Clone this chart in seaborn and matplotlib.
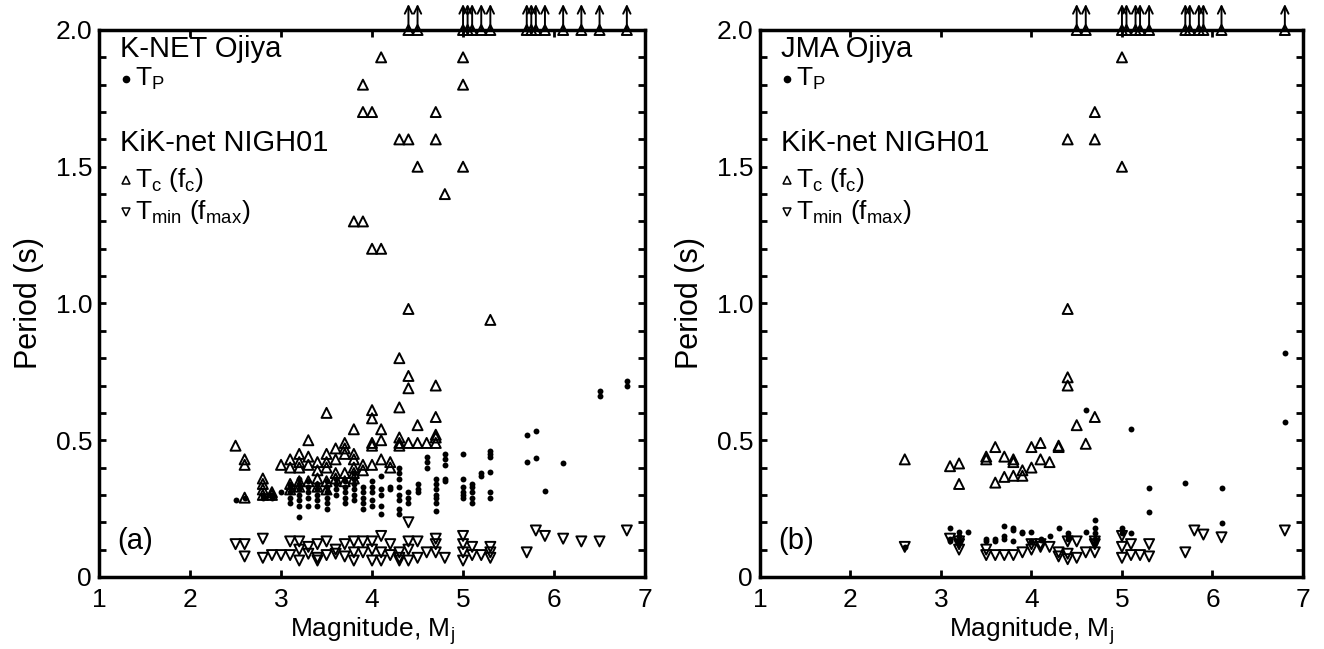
import numpy as np
import pandas as pd
import matplotlib
matplotlib.use("Agg")
import matplotlib.pyplot as plt
import seaborn as sns
from matplotlib.ticker import MultipleLocator, FixedLocator

sns.set_theme(style="ticks")
plt.rcParams['font.family'] = ['Liberation Sans', 'DejaVu Sans']
plt.rcParams['mathtext.fontset'] = 'custom'
plt.rcParams['mathtext.rm'] = 'Liberation Sans'
plt.rcParams['mathtext.it'] = 'Liberation Sans'
plt.rcParams['text.color'] = 'black'
plt.rcParams['axes.labelcolor'] = 'black'
plt.rcParams['xtick.color'] = 'black'
plt.rcParams['ytick.color'] = 'black'

# ---------------- Data: panel (a) K-NET Ojiya / KiK-net NIGH01 ----------------
a_tp_mag = [2.5, 2.6, 2.8, 2.8, 2.9, 2.9, 3.0,
            3.1, 3.1, 3.1, 3.1, 3.1,
            3.2, 3.2, 3.2, 3.2, 3.2, 3.2, 3.2,
            3.3, 3.3, 3.3, 3.3, 3.3,
            3.4, 3.4, 3.4, 3.4, 3.4,
            3.5, 3.5, 3.5, 3.5, 3.5, 3.5,
            3.6, 3.6, 3.6, 3.6,
            3.7, 3.7, 3.7, 3.7, 3.7,
            3.8, 3.8, 3.8, 3.8, 3.8, 3.8,
            3.9, 3.9, 3.9, 3.9, 3.9,
            4.0, 4.0, 4.0, 4.0, 4.0,
            4.1, 4.1, 4.1, 4.1, 4.1,
            4.2, 4.2,
            4.3, 4.3, 4.3, 4.3, 4.3, 4.3, 4.3, 4.3,
            4.4, 4.4, 4.4,
            4.5, 4.5, 4.5,
            4.6, 4.6, 4.6,
            4.7, 4.7, 4.7, 4.7, 4.7, 4.7, 4.7,
            4.8, 4.8, 4.8, 4.8, 4.8,
            5.0, 5.0, 5.0, 5.0, 5.0, 5.0,
            5.1, 5.1, 5.1, 5.1, 5.1,
            5.2, 5.2,
            5.3, 5.3, 5.3, 5.3, 5.3, 5.3,
            5.7, 5.7, 5.8, 5.8, 5.9, 6.1, 6.5, 6.5, 6.8, 6.8]
a_tp_per = [0.28, 0.29, 0.29, 0.30, 0.30, 0.29, 0.31,
            0.27, 0.29, 0.31, 0.33, 0.34,
            0.22, 0.26, 0.28, 0.30, 0.32, 0.34, 0.36,
            0.26, 0.29, 0.31, 0.33, 0.35,
            0.26, 0.28, 0.30, 0.32, 0.34,
            0.25, 0.27, 0.29, 0.31, 0.33, 0.35,
            0.30, 0.32, 0.34, 0.36,
            0.27, 0.29, 0.31, 0.33, 0.35,
            0.28, 0.30, 0.32, 0.34, 0.36, 0.38,
            0.25, 0.27, 0.29, 0.31, 0.33,
            0.26, 0.28, 0.31, 0.33, 0.35,
            0.23, 0.26, 0.30, 0.32, 0.37,
            0.32, 0.33,
            0.23, 0.25, 0.28, 0.30, 0.33, 0.36, 0.38, 0.40,
            0.27, 0.29, 0.31,
            0.31, 0.32, 0.34,
            0.40, 0.42, 0.44,
            0.24, 0.27, 0.29, 0.30, 0.32, 0.34, 0.36,
            0.35, 0.36, 0.41, 0.43, 0.45,
            0.29, 0.30, 0.31, 0.33, 0.36, 0.45,
            0.27, 0.29, 0.31, 0.33, 0.34,
            0.37, 0.38,
            0.29, 0.31, 0.385, 0.44, 0.45, 0.46,
            0.42, 0.52, 0.435, 0.535, 0.315, 0.417, 0.66, 0.68, 0.70, 0.715]

a_tc_mag = [2.5, 2.6, 2.6, 2.6,
            2.8, 2.8, 2.8, 2.8, 2.9, 2.9, 3.0,
            3.1, 3.1, 3.1, 3.1,
            3.2, 3.2, 3.2, 3.2, 3.2,
            3.3, 3.3, 3.3, 3.3,
            3.4, 3.4, 3.4, 3.4,
            3.5, 3.5, 3.5, 3.5, 3.5, 3.5,
            3.6, 3.6, 3.6, 3.6,
            3.7, 3.7, 3.7, 3.7, 3.7,
            3.8, 3.8, 3.8, 3.8, 3.8, 3.8, 3.8,
            3.9, 3.9, 3.9, 3.9, 3.9,
            4.0, 4.0, 4.0, 4.0, 4.0, 4.0, 4.0,
            4.1, 4.1, 4.1, 4.1, 4.1,
            4.2, 4.2,
            4.3, 4.3, 4.3, 4.3, 4.3, 4.3,
            4.4, 4.4, 4.4, 4.4, 4.4,
            4.5, 4.5, 4.5,
            4.6,
            4.7, 4.7, 4.7, 4.7, 4.7, 4.7, 4.7,
            4.8, 5.0, 5.0, 5.0, 5.3]
a_tc_per = [0.48, 0.43, 0.41, 0.29,
            0.36, 0.34, 0.32, 0.30, 0.31, 0.30, 0.41,
            0.43, 0.40, 0.34, 0.32,
            0.45, 0.42, 0.40, 0.35, 0.33,
            0.50, 0.44, 0.41, 0.35,
            0.42, 0.39, 0.36, 0.33,
            0.60, 0.45, 0.42, 0.40, 0.35, 0.32,
            0.47, 0.43, 0.38, 0.36,
            0.49, 0.47, 0.45, 0.38, 0.35,
            0.54, 0.45, 0.43, 0.40, 0.38, 0.36, 1.30,
            0.41, 0.39, 1.30, 1.70, 1.80,
            0.61, 0.58, 0.49, 0.48, 0.41, 1.20, 1.70,
            0.54, 0.50, 0.43, 1.20, 1.90,
            0.42, 0.40,
            0.80, 0.62, 0.51, 0.49, 0.48, 1.60,
            0.98, 0.735, 0.69, 0.49, 1.60,
            0.555, 0.49, 1.50,
            0.49,
            0.70, 0.585, 0.52, 0.51, 0.49, 1.60, 1.70,
            1.40, 1.50, 1.80, 1.90, 0.94]
# Tc beyond the axis (> 2 s), plotted at the top with arrows
a_tc_over_mag = [4.4, 4.5, 5.0, 5.05, 5.1, 5.2, 5.3, 5.7, 5.75, 5.8, 5.9, 6.1, 6.3, 6.5, 6.8]

a_tmin_mag = [2.5, 2.6, 2.6, 2.8, 2.8, 2.9, 3.0, 3.1, 3.1,
              3.2, 3.2, 3.2, 3.3, 3.3, 3.4, 3.4, 3.4, 3.5, 3.5,
              3.6, 3.6, 3.7, 3.7, 3.8, 3.8, 3.8, 3.9, 3.9,
              4.0, 4.0, 4.0, 4.1, 4.1, 4.1, 4.2, 4.2, 4.3, 4.3, 4.3,
              4.4, 4.4, 4.4, 4.4, 4.5, 4.5, 4.6, 4.7, 4.7, 4.7, 4.8,
              5.0, 5.0, 5.0, 5.0, 5.1, 5.1, 5.2, 5.3, 5.3, 5.3,
              5.7, 5.8, 5.9, 6.1, 6.3, 6.5, 6.8]
a_tmin_per = [0.12, 0.12, 0.075, 0.14, 0.07, 0.08, 0.08, 0.13, 0.08,
              0.13, 0.10, 0.06, 0.085, 0.11, 0.07, 0.06, 0.12, 0.13, 0.08,
              0.085, 0.10, 0.12, 0.075, 0.13, 0.06, 0.09, 0.13, 0.09,
              0.13, 0.10, 0.06, 0.15, 0.09, 0.06, 0.12, 0.08, 0.07, 0.06, 0.09,
              0.20, 0.13, 0.06, 0.10, 0.13, 0.07, 0.09, 0.14, 0.12, 0.09, 0.07,
              0.15, 0.12, 0.09, 0.06, 0.11, 0.08, 0.08, 0.11, 0.09, 0.07,
              0.09, 0.17, 0.15, 0.14, 0.13, 0.13, 0.17]

# ---------------- Data: panel (b) JMA Ojiya / KiK-net NIGH01 ----------------
b_tp_mag = [2.6, 3.1, 3.1, 3.1, 3.2, 3.2, 3.2, 3.3, 3.5, 3.5, 3.6, 3.6,
            3.7, 3.7, 3.7, 3.8, 3.8, 3.8, 3.9, 3.9, 4.0, 4.0, 4.1, 4.1,
            4.2, 4.3, 4.4, 4.4, 4.4, 4.6, 4.6, 4.7, 4.7, 4.7, 4.7, 4.7,
            5.0, 5.0, 5.1, 5.1, 5.3, 5.3, 5.7, 6.1, 6.1, 6.8, 6.8]
b_tp_per = [0.11, 0.18, 0.14, 0.13, 0.165, 0.15, 0.13, 0.165, 0.14, 0.13, 0.13, 0.14,
            0.187, 0.15, 0.14, 0.18, 0.17, 0.13, 0.165, 0.16, 0.165, 0.13, 0.135, 0.14,
            0.15, 0.18, 0.16, 0.14, 0.15, 0.61, 0.165, 0.21, 0.18, 0.16, 0.14, 0.125,
            0.18, 0.16, 0.54, 0.16, 0.326, 0.237, 0.345, 0.326, 0.198, 0.82, 0.567]

b_tc_mag = [2.6, 3.1, 3.2, 3.2, 3.5, 3.5, 3.6, 3.6, 3.7, 3.7,
            3.8, 3.8, 3.8, 3.9, 3.9, 4.0, 4.0, 4.1, 4.1, 4.2,
            4.3, 4.3, 4.4, 4.4, 4.4, 4.4, 4.5, 4.6, 4.7, 4.7, 4.7,
            5.0, 5.0]
b_tc_per = [0.43, 0.405, 0.415, 0.34, 0.44, 0.43, 0.475, 0.345, 0.44, 0.366,
            0.43, 0.42, 0.37, 0.39, 0.37, 0.475, 0.40, 0.49, 0.43, 0.42,
            0.475, 0.48, 0.98, 0.73, 0.70, 1.60, 0.555, 0.487, 0.585, 1.60, 1.70,
            1.50, 1.90]
b_tc_over_mag = [4.5, 4.6, 5.0, 5.05, 5.15, 5.2, 5.3, 5.7, 5.75, 5.85, 5.9, 6.1, 6.8]

b_tmin_mag = [2.6, 3.1, 3.2, 3.2, 3.2, 3.5, 3.5, 3.6, 3.7, 3.8, 3.9,
              4.0, 4.0, 4.1, 4.1, 4.2, 4.3, 4.3, 4.4, 4.4, 4.4, 4.5, 4.5,
              4.6, 4.7, 4.7, 4.7, 5.0, 5.0, 5.0, 5.1, 5.1, 5.2, 5.3, 5.3,
              5.7, 5.8, 5.9, 6.1, 6.8]
b_tmin_per = [0.11, 0.14, 0.13, 0.10, 0.12, 0.10, 0.08, 0.08, 0.08, 0.08, 0.09,
              0.10, 0.12, 0.11, 0.12, 0.11, 0.075, 0.09, 0.13, 0.085, 0.065, 0.13, 0.07,
              0.09, 0.13, 0.09, 0.12, 0.15, 0.11, 0.07, 0.12, 0.08, 0.08, 0.12, 0.075,
              0.09, 0.17, 0.155, 0.145, 0.17]

# ---------------- Axis text ----------------
y_ticks = [0, 0.5, 1.0, 1.5, 2.0]
y_tick_labels = ["0", "0.5", "1.0", "1.5", "2.0"]
x_ticks = [1, 2, 3, 4, 5, 6, 7]
x_tick_labels = ["1", "2", "3", "4", "5", "6", "7"]
y_top = 2.0

panels = [
    dict(tp=(a_tp_mag, a_tp_per), tc=(a_tc_mag, a_tc_per), over=a_tc_over_mag,
         tmin=(a_tmin_mag, a_tmin_per), station="K-NET Ojiya", tag="(a)"),
    dict(tp=(b_tp_mag, b_tp_per), tc=(b_tc_mag, b_tc_per), over=b_tc_over_mag,
         tmin=(b_tmin_mag, b_tmin_per), station="JMA Ojiya", tag="(b)"),
]

fig = plt.figure(figsize=(13.24, 6.49), dpi=100)
ax_rects = [[0.0748, 0.111, 0.4124, 0.8428], [0.574, 0.111, 0.4101, 0.8428]]

TRI_S = 52
TRI_LW = 1.4
DOT_S = 18

for rect, p in zip(ax_rects, panels):
    ax = fig.add_axes(rect)
    tp = pd.DataFrame({"mag": p["tp"][0], "per": p["tp"][1]})
    tc = pd.DataFrame({"mag": list(p["tc"][0]) + list(p["over"]),
                       "per": list(p["tc"][1]) + [y_top] * len(p["over"])})
    tm = pd.DataFrame({"mag": p["tmin"][0], "per": p["tmin"][1]})

    sns.scatterplot(data=tc, x="mag", y="per", marker="^", s=TRI_S,
                    facecolors="none", edgecolor="black", linewidth=TRI_LW,
                    ax=ax, clip_on=False, zorder=3)
    sns.scatterplot(data=tm, x="mag", y="per", marker="v", s=TRI_S,
                    facecolors="none", edgecolor="black", linewidth=TRI_LW,
                    ax=ax, clip_on=False, zorder=3)
    sns.scatterplot(data=tp, x="mag", y="per", marker="o", s=DOT_S,
                    color="black", linewidth=0, ax=ax, zorder=4)

    for m in p["over"]:
        ax.annotate("", xy=(m, y_top + 0.095), xytext=(m, y_top),
                    arrowprops=dict(arrowstyle="->,head_length=0.45,head_width=0.22",
                                    lw=1.4, color="black", shrinkA=0, shrinkB=0),
                    annotation_clip=False, zorder=5)

    ax.set_xlim(1, 7)
    ax.set_ylim(0, 2.0)
    ax.xaxis.set_major_locator(FixedLocator(x_ticks))
    ax.set_xticklabels(x_tick_labels)
    ax.yaxis.set_major_locator(FixedLocator(y_ticks))
    ax.set_yticklabels(y_tick_labels)
    ax.yaxis.set_minor_locator(MultipleLocator(0.1))
    ax.tick_params(axis="both", which="both", direction="in", top=True, right=True,
                   length=5, width=2, labelsize=19, colors="black")
    ax.tick_params(axis="y", which="major", pad=5)
    ax.tick_params(axis="x", which="major", pad=8)
    for sp in ax.spines.values():
        sp.set_linewidth(2.5)
        sp.set_color("black")
    ax.set_xlabel("Magnitude, M$_\\mathregular{j}$", fontsize=19, labelpad=2)
    ax.set_ylabel("Period (s)", fontsize=22, labelpad=8)

    # in-plot legend text
    tr = ax.transAxes
    ax.text(0.038, 0.966, p["station"], transform=tr, fontsize=21, va="center", ha="left")
    ax.plot([0.050], [0.910], "o", ms=4.5, color="black", transform=tr, clip_on=False)
    ax.text(0.066, 0.910, "T$_\\mathregular{P}$", transform=tr, fontsize=19, va="center", ha="left")
    ax.text(0.038, 0.793, "KiK-net NIGH01", transform=tr, fontsize=21, va="center", ha="left")
    ax.plot([0.050], [0.726], "^", ms=6, mfc="none", mec="black", mew=1.1, transform=tr)
    ax.text(0.066, 0.726, "T$_\\mathregular{c}$ (f$_\\mathregular{c}$)", transform=tr,
            fontsize=19, va="center", ha="left")
    ax.plot([0.050], [0.667], "v", ms=6, mfc="none", mec="black", mew=1.1, transform=tr)
    ax.text(0.066, 0.667, "T$_\\mathregular{min}$ (f$_\\mathregular{max}$)", transform=tr,
            fontsize=19, va="center", ha="left")
    ax.text(0.033, 0.066, p["tag"], transform=tr, fontsize=21, va="center", ha="left")

fig.savefig("out.png", dpi=100)
